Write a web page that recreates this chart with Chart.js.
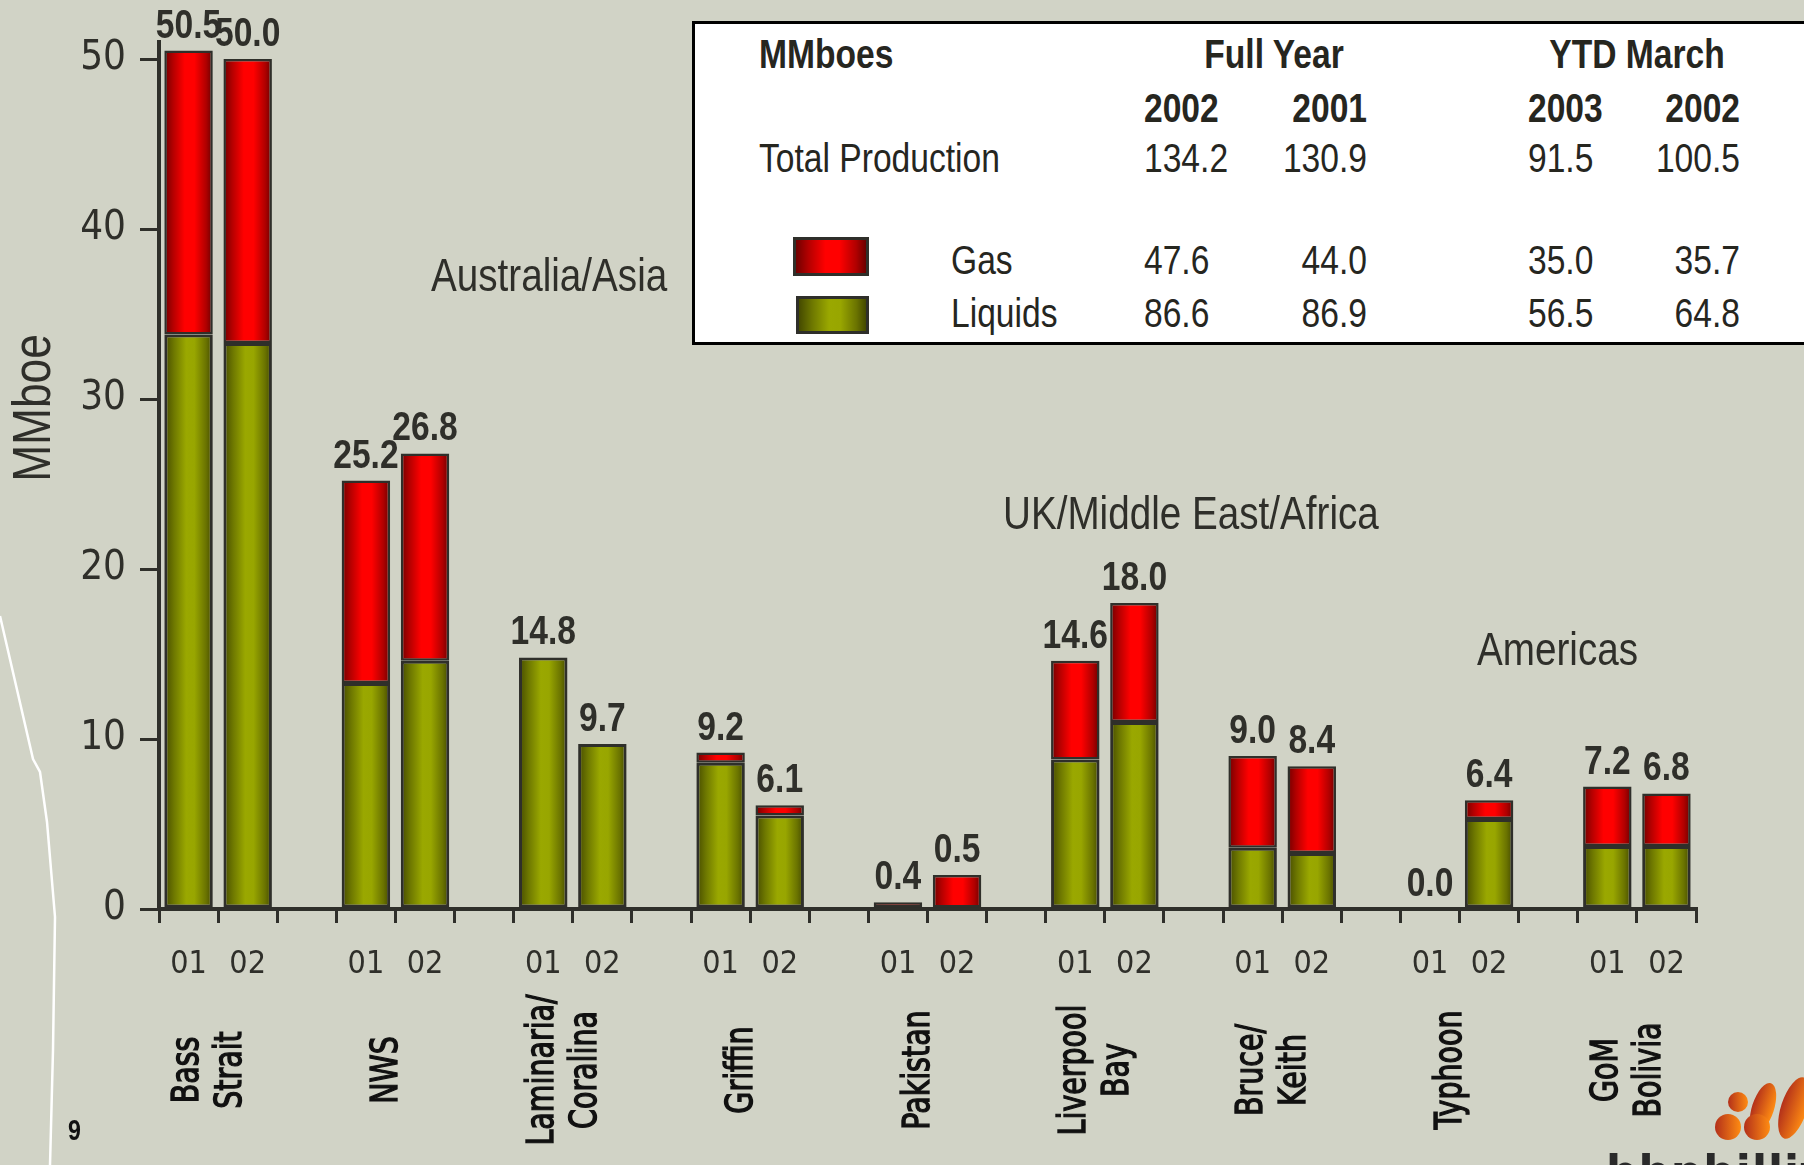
<!DOCTYPE html>
<html>
<head>
  <meta charset="utf-8">
  <title>Production by field</title>
  <style>
    body { margin: 0; background: #d1d3c6; overflow: hidden; }
    #wrap { position: relative; width: 1804px; height: 1165px; overflow: hidden; }
    #prod-chart { position: absolute; left: 0; top: 0; }
    #deco { position: absolute; left: 0; top: 0; }
    #summary {
      position: absolute; left: 692px; top: 21px; width: 1200px; height: 324px;
      box-sizing: border-box; background: #fff; border: 3px solid #000;
    }
    #summary .cell {
      position: absolute; font: 40px "Liberation Sans", Arial, sans-serif; line-height: 1;
      color: #26261f; white-space: nowrap;
    }
    #summary .swatch { position: absolute; box-sizing: border-box; border: 3px solid #2f2f2a; }
    #page-no { position: absolute; left: 68px; top: 1114px; font: bold 29px "Liberation Sans", sans-serif; color: #111;
               transform: scaleX(0.8); transform-origin: left; }
    #logo-text { position: absolute; left: 1606px; top: 1146px; font: bold 44px "DejaVu Sans", sans-serif; color: #2a2a2a; letter-spacing: 1px; }
  </style>
  <script src="https://cdn.jsdelivr.net/npm/chart.js"></script>
</head>
<body>
<div id="wrap">
  <svg id="deco" width="1804" height="1165">
    <polyline points="0,616 33,759 40,772 47,822 55,917 53,1050 50,1165" fill="none" stroke="#fff" stroke-width="2.5"/>
    <defs>
      <linearGradient id="orange" x1="0" x2="1" y1="0" y2="0">
        <stop offset="0" stop-color="#b3301a"/>
        <stop offset="1" stop-color="#ff8c12"/>
      </linearGradient>
    </defs>
    <g fill="url(#orange)">
      <circle cx="1738" cy="1102" r="10"/>
      <circle cx="1728" cy="1127" r="13"/>
      <ellipse cx="1763" cy="1108" rx="11" ry="26" transform="rotate(18 1763 1108)"/>
      <circle cx="1757" cy="1127" r="13"/>
      <ellipse cx="1794" cy="1108" rx="13" ry="32" transform="rotate(18 1794 1108)"/>
    </g>
  </svg>
  <canvas id="prod-chart" width="1804" height="1165"></canvas>
  <div id="summary"></div>
  <div id="page-no">9</div>
  <div id="logo-text">bhpbilliton</div>
</div>
<script>
  // field names (two lines where the slide breaks them)
  const groupLines = [['Bass', 'Strait'], ['NWS'], ['Laminaria/', 'Coralina'], ['Griffin'], ['Pakistan'],
                      ['Liverpool', 'Bay'], ['Bruce/', 'Keith'], ['Typhoon'], ['GoM', 'Bolivia']];
  const periods = ['01', '02'];

  // MMboe per field
  const liquids01 = [33.8, 13.3, 14.8, 8.6, 0, 8.8, 3.6, 0, 3.7];
  const gas01     = [16.7, 11.9, 0, 0.6, 0.4, 5.8, 5.4, 0, 3.5];
  const liquids02 = [33.3, 14.6, 9.7, 5.5, 0, 11.0, 3.3, 5.3, 3.7];
  const gas02     = [16.7, 12.2, 0, 0.6, 2.0, 7.0, 5.1, 1.1, 3.1];
  const total01   = ['50.5', '25.2', '14.8', '9.2', '0.4', '14.6', '9.0', '0.0', '7.2'];
  const total02   = ['50.0', '26.8', '9.7', '6.1', '0.5', '18.0', '8.4', '6.4', '6.8'];

  const yTicks = [0, 10, 20, 30, 40, 50];
  const regions = ['Australia/Asia', 'UK/Middle East/Africa', 'Americas'];

  // summary table
  const tableYears   = ['2002', '2001', '2003', '2002'];
  const totalRow     = ['134.2', '130.9', '91.5', '100.5'];
  const gasRow       = ['47.6', '44.0', '35.0', '35.7'];
  const liquidsRow   = ['86.6', '86.9', '56.5', '64.8'];

  const INK = '#2f2f2a';
  const COND = '"DejaVu Sans Condensed", "Liberation Sans", sans-serif';
  const SANS = '"Liberation Sans", Arial, sans-serif';
  const SQUEEZE = 0.84;   // the slide uses a condensed face

  // one slot per bar plus an empty slot between fields
  const slotLabels = [], liquidSlots = [], gasSlots = [], totalSlots = [];
  groupLines.forEach((g, i) => {
    if (i > 0) { slotLabels.push(''); liquidSlots.push(null); gasSlots.push(null); totalSlots.push(null); }
    slotLabels.push(periods[0], periods[1]);
    liquidSlots.push(liquids01[i], liquids02[i]);
    gasSlots.push(gas01[i], gas02[i]);
    totalSlots.push(total01[i], total02[i]);
  });

  const RED = [[0, '#700000'], [0.18, '#b40000'], [0.42, '#ff0000'], [0.62, '#ff0000'], [0.86, '#b00000'], [1, '#6a0000']];
  const OLIVE = [[0, '#454a00'], [0.2, '#6e7800'], [0.45, '#9aa800'], [0.62, '#98a600'], [0.86, '#6a7300'], [1, '#434800']];

  function barFill(c, stops) {
    const xs = c.chart.scales.x;
    if (!xs || !xs.width) return stops[2][1];
    const cx = xs.getPixelForValue(c.dataIndex);
    const half = xs.width / slotLabels.length * 0.82 / 2;
    const g = c.chart.ctx.createLinearGradient(cx - half, 0, cx + half, 0);
    stops.forEach(s => g.addColorStop(s[0], s[1]));
    return g;
  }

  // condensed text: draw a normal face squeezed along the writing direction
  function squeezed(ctx, text, x, y, font, align, angle, sx, weight) {
    ctx.save();
    ctx.translate(x, y);
    if (angle) ctx.rotate(angle);
    ctx.scale(sx || SQUEEZE, 1);
    ctx.font = font;
    ctx.textAlign = align;
    ctx.fillText(text, 0, 0);
    if (weight) {
      ctx.strokeStyle = ctx.fillStyle;
      ctx.lineWidth = weight;
      ctx.strokeText(text, 0, 0);
    }
    ctx.restore();
  }

  const annotations = {
    id: 'annotations',
    afterDatasetsDraw(chart) {
      const ctx = chart.ctx;
      const xs = chart.scales.x;
      const tops = chart.getDatasetMeta(1).data;
      ctx.save();
      ctx.fillStyle = INK;

      // totals above each stack
      ctx.textBaseline = 'alphabetic';
      tops.forEach((bar, i) => {
        if (totalSlots[i] == null) return;
        squeezed(ctx, totalSlots[i], bar.x, bar.y - 13, 'bold 40px ' + SANS, 'center');
      });

      // field names, rotated, centred on the boundary between 01 and 02
      ctx.fillStyle = '#111';
      ctx.textBaseline = 'middle';
      groupLines.forEach((lines, gi) => {
        const i = gi * 3;
        const cx = (xs.getPixelForValue(i) + xs.getPixelForValue(i + 1)) / 2;
        lines.forEach((line, li) => {
          squeezed(ctx, line, cx - 8 + (li - (lines.length - 1) / 2) * 43, 1070,
                   '37px "DejaVu Sans", sans-serif', 'center', -Math.PI / 2, 0.77, 1.4);
        });
      });

      // region captions
      ctx.fillStyle = INK;
      squeezed(ctx, regions[0], 431, 278, '46px ' + SANS, 'left');
      squeezed(ctx, regions[1], 1003, 516, '46px ' + SANS, 'left');
      squeezed(ctx, regions[2], 1477, 652, '46px ' + SANS, 'left');

      // y title
      squeezed(ctx, 'MMboe', 35, 408, '54px ' + SANS, 'center', -Math.PI / 2, 0.82);
      ctx.restore();
    }
  };

  new Chart(document.getElementById('prod-chart').getContext('2d'), {
    type: 'bar',
    data: {
      labels: slotLabels,
      datasets: [
        { label: 'Liquids', data: liquidSlots, backgroundColor: c => barFill(c, OLIVE),
          borderColor: INK, borderWidth: 3, borderSkipped: false, categoryPercentage: 0.82, barPercentage: 1 },
        { label: 'Gas', data: gasSlots, backgroundColor: c => barFill(c, RED),
          borderColor: INK, borderWidth: 2.5, borderSkipped: false, categoryPercentage: 0.82, barPercentage: 1 }
      ]
    },
    options: {
      responsive: false,
      animation: false,
      layout: { padding: { left: 0, top: 42, right: 108, bottom: 0 } },
      plugins: { legend: { display: false }, tooltip: { enabled: false } },
      scales: {
        x: {
          stacked: true,
          offset: true,
          grid: { offset: true, drawOnChartArea: false, tickLength: 14, color: INK, lineWidth: 3 },
          border: { color: INK, width: 4 },
          ticks: { color: INK, font: { family: COND, size: 32 }, padding: 22, autoSkip: false, maxRotation: 0 },
          afterFit: s => { s.height = 256; }
        },
        y: {
          stacked: true,
          min: 0,
          max: 51,
          afterBuildTicks: s => { s.ticks = yTicks.map(v => ({ value: v })); },
          grid: { drawOnChartArea: false, tickLength: 19, color: INK, lineWidth: 3 },
          border: { color: INK, width: 4 },
          ticks: { color: INK, font: { family: COND, size: 40 }, padding: 14 },
          afterFit: s => { s.width = 159; }
        }
      }
    },
    plugins: [annotations]
  });

  // summary table in the top right box
  const box = document.getElementById('summary');
  function cell(text, x, y, align, bold) {
    const d = document.createElement('div');
    d.className = 'cell';
    d.textContent = text;
    if (bold) d.style.fontWeight = 'bold';
    d.style.left = x + 'px';
    d.style.top = y + 'px';
    const tx = align === 'right' ? '-100%' : align === 'center' ? '-50%' : '0';
    d.style.transformOrigin = align === 'right' ? 'right center' : align === 'center' ? 'center' : 'left center';
    d.style.transform = 'translate(' + tx + ', -50%) scaleX(' + SQUEEZE + ')';
    box.appendChild(d);
  }
  const colX = [449, 672, 833, 1045];
  const colAlign = ['left', 'right', 'left', 'right'];
  cell('MMboes', 64, 30, 'left', true);
  cell('Full Year', 579, 30, 'center', true);
  cell('YTD March', 942, 30, 'center', true);
  tableYears.forEach((t, i) => cell(t, colX[i], 84, colAlign[i], true));
  cell('Total Production', 64, 134, 'left', false);
  totalRow.forEach((t, i) => cell(t, colX[i], 134, colAlign[i], false));
  cell('Gas', 256, 236, 'left', false);
  gasRow.forEach((t, i) => cell(t, colX[i], 236, colAlign[i], false));
  cell('Liquids', 256, 289, 'left', false);
  liquidsRow.forEach((t, i) => cell(t, colX[i], 289, colAlign[i], false));

  function swatch(x, y, w, h, stops) {
    const s = document.createElement('div');
    s.className = 'swatch';
    s.style.left = x + 'px'; s.style.top = y + 'px';
    s.style.width = w + 'px'; s.style.height = h + 'px';
    s.style.background = 'linear-gradient(to right, ' + stops.map(p => p[1] + ' ' + (p[0] * 100) + '%').join(', ') + ')';
    box.appendChild(s);
  }
  swatch(98, 213, 76, 39, RED);
  swatch(101, 272, 73, 38, OLIVE);
</script>
</body>
</html>
